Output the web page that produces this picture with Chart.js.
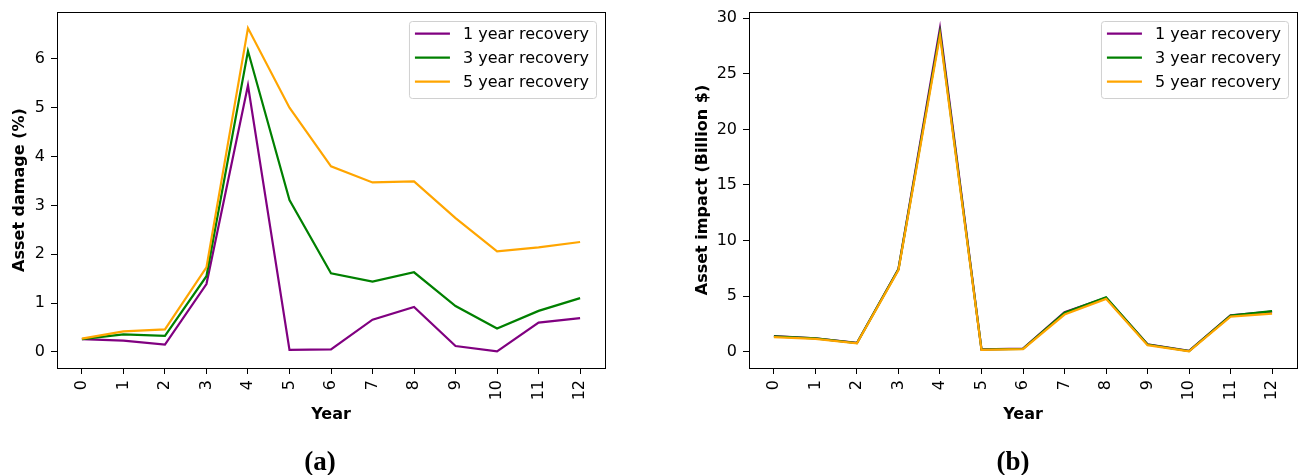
<!DOCTYPE html>
<html>
<head>
<meta charset="utf-8">
<script src="https://cdn.jsdelivr.net/npm/chart.js@4"></script>
<style>
  body { margin: 0; background: #fff; }
  #wrap { position: relative; width: 1302px; height: 475px; }
  .panel { position: absolute; top: 0; width: 651px; height: 475px; }
  .cap { position: absolute; top: 446px; font: bold 27px "Liberation Serif", serif; color: #000; transform: translateX(-50%); }
</style>
</head>
<body>
<div id="wrap">
  <div class="panel" style="left:0"><canvas id="chartA" width="651" height="475"></canvas></div>
  <div class="panel" style="left:651px"><canvas id="chartB" width="651" height="475"></canvas></div>
  <div class="cap" style="left:320px">(a)</div>
  <div class="cap" style="left:1013px">(b)</div>
</div>
<script>
var years = [0, 1, 2, 3, 4, 5, 6, 7, 8, 9, 10, 11, 12];
var seriesNames = ['1 year recovery', '3 year recovery', '5 year recovery'];
var seriesColors = ['#800080', '#008000', '#FFA500'];

// (a) asset damage, %
var damage1 = [0.26, 0.23, 0.15, 1.39, 5.46, 0.04, 0.05, 0.66, 0.92, 0.12, 0.01, 0.60, 0.69];
var damage3 = [0.26, 0.36, 0.33, 1.55, 6.16, 3.11, 1.61, 1.44, 1.63, 0.94, 0.48, 0.84, 1.10];
var damage5 = [0.27, 0.42, 0.46, 1.73, 6.63, 5.00, 3.80, 3.47, 3.49, 2.74, 2.06, 2.14, 2.25];
var damageTicks = [0, 1, 2, 3, 4, 5, 6];

// (b) asset impact, billion $
var impact1 = [1.42, 1.22, 0.80, 7.45, 29.10, 0.22, 0.28, 3.56, 4.85, 0.68, 0.08, 3.28, 3.62];
var impact3 = [1.38, 1.20, 0.79, 7.42, 28.70, 0.21, 0.27, 3.52, 4.90, 0.66, 0.07, 3.26, 3.65];
var impact5 = [1.32, 1.16, 0.76, 7.35, 28.45, 0.18, 0.24, 3.35, 4.76, 0.60, 0.04, 3.17, 3.44];
var impactTicks = [0, 5, 10, 15, 20, 25, 30];

var FONT = '"DejaVu Sans", sans-serif';

// frame + matplotlib style legend box
var framePlugin = {
  id: 'frame',
  afterDraw: function(chart) {
    var ctx = chart.ctx, a = chart.chartArea;
    ctx.save();
    ctx.strokeStyle = '#000';
    ctx.lineWidth = 1;
    ctx.strokeRect(Math.round(a.left) + 0.5, Math.round(a.top) + 0.5,
      Math.round(a.right - a.left), Math.round(a.bottom - a.top));

    ctx.font = '16px ' + FONT;
    var tw = 0;
    chart.data.datasets.forEach(function(ds) { tw = Math.max(tw, ctx.measureText(ds.label).width); });
    var w = 6 + 35 + 13 + tw + 7, h = 77;
    var x = a.right - 9 - w, y = a.top + 9;
    ctx.beginPath();
    ctx.roundRect(x + 0.5, y + 0.5, w, h, 3);
    ctx.fillStyle = 'rgba(255,255,255,0.8)';
    ctx.fill();
    ctx.strokeStyle = '#d0d0d0';
    ctx.stroke();
    ctx.textBaseline = 'middle';
    ctx.fillStyle = '#000';
    chart.data.datasets.forEach(function(ds, i) {
      var cy = y + 12.6 + i * 24;
      ctx.beginPath();
      ctx.moveTo(x + 6, cy);
      ctx.lineTo(x + 41, cy);
      ctx.strokeStyle = ds.borderColor;
      ctx.lineWidth = 2.2;
      ctx.stroke();
      ctx.fillText(ds.label, x + 54, cy + 1);
    });
    ctx.restore();
  }
};

function makeChart(id, values, tickVals, yMin, yMax, yTitle, yWidth, yTitlePad) {
  var ctx = document.getElementById(id).getContext('2d');
  return new Chart(ctx, {
    type: 'line',
    data: {
      labels: years,
      datasets: values.map(function(v, i) {
        return {
          label: seriesNames[i],
          data: v,
          order: values.length - i, // later series drawn on top, like matplotlib
          borderColor: seriesColors[i],
          backgroundColor: seriesColors[i],
          borderWidth: 2.2,
          pointRadius: 0,
          tension: 0,
          fill: false
        };
      })
    },
    options: {
      responsive: false,
      animation: false,
      layout: { padding: { left: 0, right: id === 'chartA' ? 46 : 5, top: 12, bottom: 0 } },
      plugins: { legend: { display: false }, tooltip: { enabled: false } },
      scales: {
        x: {
          type: 'linear',
          min: -0.6,
          max: 12.6,
          afterBuildTicks: function(s) { s.ticks = years.map(function(v) { return { value: v }; }); },
          afterFit: function(s) { s.height = 107; s.paddingLeft = 0; s.paddingRight = 0; },
          grid: { drawOnChartArea: false, drawTicks: true, tickLength: 6, color: '#000' },
          border: { display: false },
          ticks: { minRotation: 90, maxRotation: 90, padding: 6, color: '#000', font: { family: FONT, size: 16 } },
          title: { display: true, text: 'Year', color: '#000', font: { family: FONT, size: 16, weight: 'bold' }, padding: { top: 4, bottom: 51 } }
        },
        y: {
          min: yMin,
          max: yMax,
          afterBuildTicks: function(s) { s.ticks = tickVals.map(function(v) { return { value: v }; }); },
          afterFit: function(s) { s.width = yWidth; s.paddingTop = 0; s.paddingBottom = 0; },
          grid: { drawOnChartArea: false, drawTicks: true, tickLength: 6, color: '#000' },
          border: { display: false },
          ticks: { padding: 6, color: '#000', font: { family: FONT, size: 16 } },
          title: { display: true, text: yTitle, color: '#000', font: { family: FONT, size: 16, weight: 'bold' }, padding: { top: yTitlePad, bottom: 0 } }
        }
      }
    },
    plugins: [framePlugin]
  });
}

makeChart('chartA', [damage1, damage3, damage5], damageTicks, -0.33, 6.96, 'Asset damage (%)', 57, 10);
makeChart('chartB', [impact1, impact3, impact5], impactTicks, -1.455, 30.55, 'Asset impact (Billion $)', 98, 42);
</script>
</body>
</html>
